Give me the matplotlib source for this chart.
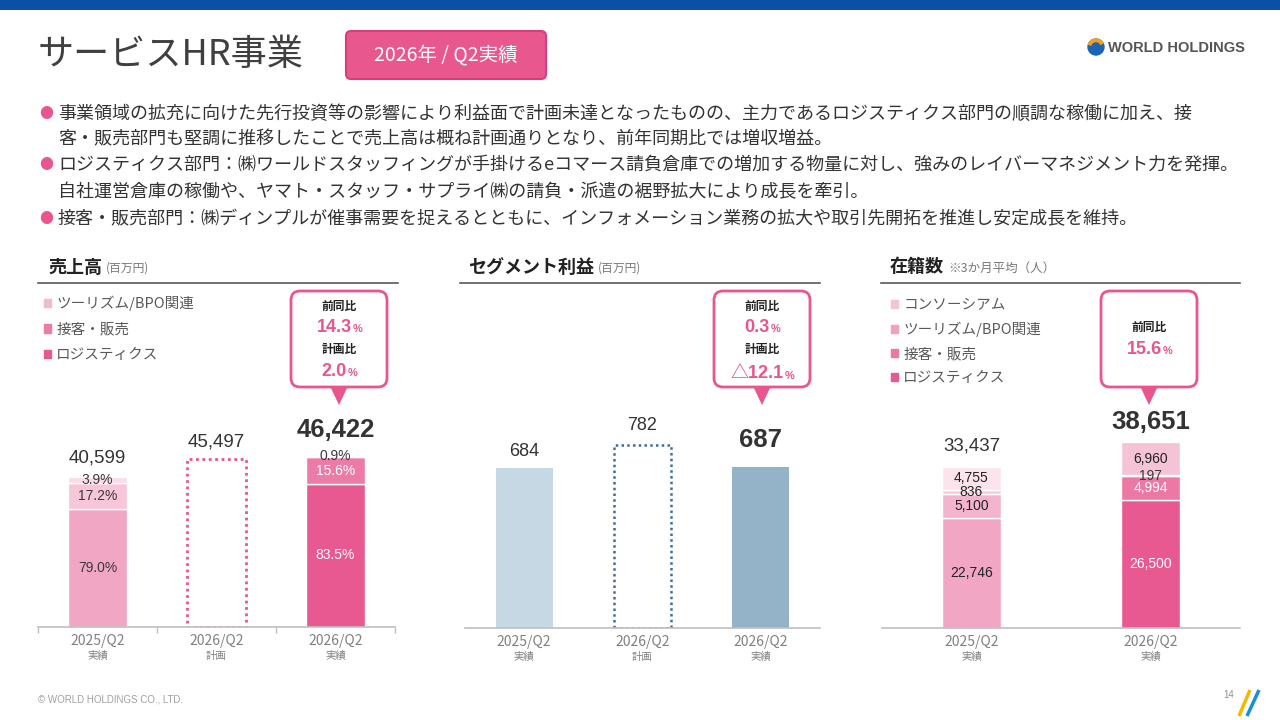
import matplotlib
matplotlib.use('Agg')
import matplotlib.pyplot as plt
from matplotlib.patches import FancyBboxPatch, Polygon, Rectangle, Circle, Wedge, Patch
import numpy as np

JP = ['Noto Sans CJK JP', 'DejaVu Sans']
NUM = ['Liberation Sans', 'Noto Sans CJK JP', 'DejaVu Sans']
plt.rcParams['font.family'] = JP

# ---------------- data ----------------
page_title = 'サービスHR事業'
badge_text = '2026年 / Q2実績'
bullet_lines = [
    (True,  '事業領域の拡充に向けた先行投資等の影響により利益面で計画未達となったものの、主力であるロジスティクス部門の順調な稼働に加え、接'),
    (False, '客・販売部門も堅調に推移したことで売上高は概ね計画通りとなり、前年同期比では増収増益。'),
    (True,  'ロジスティクス部門：㈱ワールドスタッフィングが手掛けるeコマース請負倉庫での増加する物量に対し、強みのレイバーマネジメント力を発揮。'),
    (False, '自社運営倉庫の稼働や、ヤマト・スタッフ・サプライ㈱の請負・派遣の裾野拡大により成長を牽引。'),
    (True,  '接客・販売部門：㈱ディンプルが催事需要を捉えるとともに、インフォメーション業務の拡大や取引先開拓を推進し安定成長を維持。'),
]

periods3 = ['2025/Q2', '2026/Q2', '2026/Q2']
kinds3 = ['実績', '計画', '実績']
periods2 = ['2025/Q2', '2026/Q2']
kinds2 = ['実績', '実績']

# 売上高 (百万円)
sales_total = [40599, 45497, 46422]
sales_segments = ['ロジスティクス', '接客・販売', 'ツーリズム/BPO関連']   # bottom -> top
sales_share_2025 = [79.0, 17.2, 3.9]
sales_share_2026 = [83.5, 15.6, 0.9]
sales_yoy = '14.3'
sales_vs_plan = '2.0'

# セグメント利益 (百万円)
profit = [684, 782, 687]
profit_yoy = '0.3'
profit_vs_plan = '△12.1'

# 在籍数 (人)
staff_segments = ['ロジスティクス', '接客・販売', 'ツーリズム/BPO関連', 'コンソーシアム']  # bottom -> top
staff_2025 = [22746, 5100, 836, 4755]
staff_2026 = [26500, 4994, 197, 6960]
staff_total = [33437, 38651]
staff_yoy = '15.6'

# ---------------- style ----------------
PINK = '#E8558F'
DARK = '#3A3A3A'
GRAY = '#808080'
sales_cols_2025 = ['#F1A7C4', '#F7C6D9', '#FADCE7']
sales_cols_2026 = ['#E85891', '#EC7BA7', '#F4B9D0']
sales_txt_2025 = [DARK, DARK, DARK]
sales_txt_2026 = ['white', 'white', DARK]
staff_cols_2025 = ['#F1A7C4', '#F4B4CD', '#F8CADB', '#FCE3EC']
staff_cols_2026 = ['#E85891', '#EC78A5', '#F1A1C0', '#F5C3D6']
staff_txt_2025 = ['#222222'] * 4
staff_txt_2026 = ['white', 'white', DARK, '#222222']
profit_cols = ['#C6D8E3', None, '#94B3C8']

W, H = 1280, 720
fig = plt.figure(figsize=(12.8, 7.2), dpi=100)
bg = fig.add_axes([0, 0, 1, 1], zorder=0)
bg.set_xlim(0, W)
bg.set_ylim(H, 0)
bg.axis('off')

# top band
bg.add_patch(Rectangle((0, 0), W, 10, color='#0B4FA6', lw=0))

# title & badge
bg.text(38, 55, page_title, fontsize=26, color='#3F3F3F', va='center', ha='left')
bg.add_patch(FancyBboxPatch((346, 31), 200, 48, boxstyle='round,pad=0,rounding_size=5',
                            fc='#E8588F', ec='#DA3D7C', lw=1.5))
bg.text(446, 55, badge_text, fontsize=14, color='white', va='center', ha='center')

# logo
bg.add_patch(Circle((1096, 47), 8, color='#1D63B5'))
bg.add_patch(Wedge((1096, 47), 8, 200, 330, width=2.5, color='#F2A21B'))
bg.text(1108, 48, 'WORLD HOLDINGS', fontsize=10.5, weight='bold', color='#555555',
        family=NUM, va='center', ha='left')

# bullets
line_y = [114, 139, 165, 192, 219]
for (has_dot, txt), y in zip(bullet_lines, line_y):
    if has_dot:
        bg.text(46, y, '●', fontsize=10, color=PINK, va='center', ha='center')
    bg.text(58, y, txt, fontsize=13, color='#333333', va='center', ha='left')

# chart headers
def header(x, y, main, sub, x0, x1, subsize=8.5):
    t = bg.text(x, y, main, fontsize=13, weight='bold', color='#222222', va='center', ha='left')
    bg.annotate(sub, xy=(1, 0.5), xycoords=t, xytext=(3, -1), textcoords='offset points',
                fontsize=subsize, color='#777777', va='center', ha='left')
    bg.plot([x0, x1], [283, 283], color='#595959', lw=1.2)

header(48, 267, '売上高', '(百万円)', 38, 398)
header(468, 267, 'セグメント利益', '(百万円)', 460, 820)
header(890, 267, '在籍数', '※3か月平均（人）', 881, 1240, subsize=9)

# callouts
def callout(cx, rows):
    y0, y1 = 291, 387
    bg.add_patch(FancyBboxPatch((cx - 48, y0), 96, y1 - y0, boxstyle='round,pad=0,rounding_size=9',
                                fc='white', ec=PINK, lw=2, zorder=3))
    bg.add_patch(Polygon([(cx - 9, y1 - 1), (cx + 9, y1 - 1), (cx, 405)], closed=True,
                         fc=PINK, ec='none', zorder=3))
    for label, val, yl, yv in rows:
        bg.text(cx, yl, label, fontsize=8.5, weight='bold', color='#222222', ha='center', va='center', zorder=4)
        t = bg.text(cx - 5, yv, val, fontsize=13, weight='bold', color=PINK, family=NUM,
                    ha='center', va='center', zorder=4)
        bg.annotate('%', xy=(1, 0), xycoords=t, xytext=(1, 1.5), textcoords='offset pixels',
                    fontsize=8, weight='bold', color=PINK, family=NUM, ha='left', va='bottom', zorder=4)

callout(339, [('前同比', sales_yoy, 306, 327), ('計画比', sales_vs_plan, 349, 371)])
callout(762, [('前同比', profit_yoy, 306, 327), ('計画比', profit_vs_plan, 349, 374)])
callout(1149, [('前同比', staff_yoy, 327, 349)])

# chart axes helper
def chart_axes(left, right, base, top, ymax, n):
    ax = fig.add_axes([left / W, 1 - base / H, (right - left) / W, (base - top) / H], zorder=1)
    ax.set_facecolor('none')
    ax.set_ylim(0, ymax)
    ax.set_xlim(-0.5, n - 0.5)
    for s in ['top', 'left', 'right']:
        ax.spines[s].set_visible(False)
    ax.spines['bottom'].set_color('#BFBFBF')
    ax.spines['bottom'].set_linewidth(1.2)
    ax.set_yticks([])
    return ax

def xlabels(ax, periods, kinds):
    x = np.arange(len(periods))
    ax.set_xticks(x, periods, fontsize=10, color=GRAY)
    ax.tick_params(axis='x', which='major', length=0, pad=5)
    for i, k in enumerate(kinds):
        ax.annotate(k, xy=(i, 0), xycoords=('data', 'axes fraction'), xytext=(0, -29),
                    textcoords='offset pixels', fontsize=7.5, color=GRAY, ha='center', va='center')

def total_label(ax, i, v, off, size, bold):
    ax.annotate(f'{v:,}', xy=(i, v), xytext=(0, off), textcoords='offset pixels', ha='center',
                va='center', fontsize=size, weight='bold' if bold else 'normal', color='#333333', family=NUM)

LEG = dict(loc='upper left', bbox_transform=fig.transFigure, frameon=False, fontsize=10.5,
           handlelength=0.5, handleheight=0.5, handletextpad=0.35, borderpad=0, borderaxespad=0,
           labelcolor='#595959')

# ---- 売上高 ----
ax1 = chart_axes(38, 395, 627, 290, 91300, 3)
xlabels(ax1, periods3, kinds3)
ax1.set_xticks([-0.5, 0.5, 1.5, 2.5], minor=True)
ax1.tick_params(axis='x', which='minor', length=4, color='#BFBFBF', width=1)
for idx, shares, cols, tcols in [(0, sales_share_2025, sales_cols_2025, sales_txt_2025),
                                 (2, sales_share_2026, sales_cols_2026, sales_txt_2026)]:
    bottom = 0
    for s, c, tc in zip(shares, cols, tcols):
        h = sales_total[idx] * s / 100
        ax1.bar(idx, h, bottom=bottom, width=0.5, color=c, edgecolor='white', linewidth=1)
        ax1.text(idx, bottom + h / 2, f'{s:.1f}%', ha='center', va='center', fontsize=10,
                 color=tc, family=NUM)
        bottom += h
ax1.bar(1, sales_total[1], width=0.5, fill=False, edgecolor=PINK, linestyle=(0, (1, 1.3)), linewidth=2)
for i, (off, size, bold) in enumerate([(19, 13.5, False), (17, 13.5, False), (26, 18.5, True)]):
    total_label(ax1, i, sales_total[i], off, size, bold)
ax1.legend(handles=[Patch(color=c, label=l) for c, l in zip(sales_cols_2026[::-1], sales_segments[::-1])],
           bbox_to_anchor=(44 / W, 1 - 296 / H), labelspacing=0.78, **LEG)

# ---- セグメント利益 ----
ax2 = chart_axes(465, 820, 628, 290, 1445, 3)
xlabels(ax2, periods3, kinds3)
for i in [0, 2]:
    ax2.bar(i, profit[i], width=0.48, color=profit_cols[i], linewidth=0)
ax2.bar(1, profit[1], width=0.48, fill=False, edgecolor='#3C6E9C', linestyle=(0, (1, 1.3)), linewidth=1.8)
for i, (off, size, bold) in enumerate([(17, 13, False), (20, 13, False), (27, 18.5, True)]):
    total_label(ax2, i, profit[i], off, size, bold)

# ---- 在籍数 ----
ax3 = chart_axes(882, 1240, 628, 290, 70200, 2)
xlabels(ax3, periods2, kinds2)
for idx, vals, cols, tcols in [(0, staff_2025, staff_cols_2025, staff_txt_2025),
                               (1, staff_2026, staff_cols_2026, staff_txt_2026)]:
    bottom = 0
    for v, c, tc in zip(vals, cols, tcols):
        ax3.bar(idx, v, bottom=bottom, width=0.335, color=c, edgecolor='white', linewidth=1)
        ax3.text(idx, bottom + v / 2, f'{v:,}', ha='center', va='center', fontsize=10,
                 color=tc, family=NUM)
        bottom += v
for i, (off, size, bold) in enumerate([(21, 13.5, False), (20, 18.5, True)]):
    total_label(ax3, i, staff_total[i], off, size, bold)
ax3.legend(handles=[Patch(color=c, label=l) for c, l in zip(staff_cols_2026[::-1], staff_segments[::-1])],
           bbox_to_anchor=(891 / W, 1 - 298 / H), labelspacing=0.68, **LEG)

# footer
bg.text(38, 699, '© WORLD HOLDINGS CO., LTD.', fontsize=7, color='#A0A0A0', family=NUM, va='center', ha='left')
bg.text(1229, 695, '14', fontsize=7, color='#909090', family=NUM, va='center', ha='center')
bg.plot([1239, 1250], [716, 690], color='#F5B800', lw=2.5, solid_capstyle='butt')
bg.plot([1247, 1259], [716, 690], color='#1A8FD8', lw=2.5, solid_capstyle='butt')

fig.savefig('out.png', dpi=100)
